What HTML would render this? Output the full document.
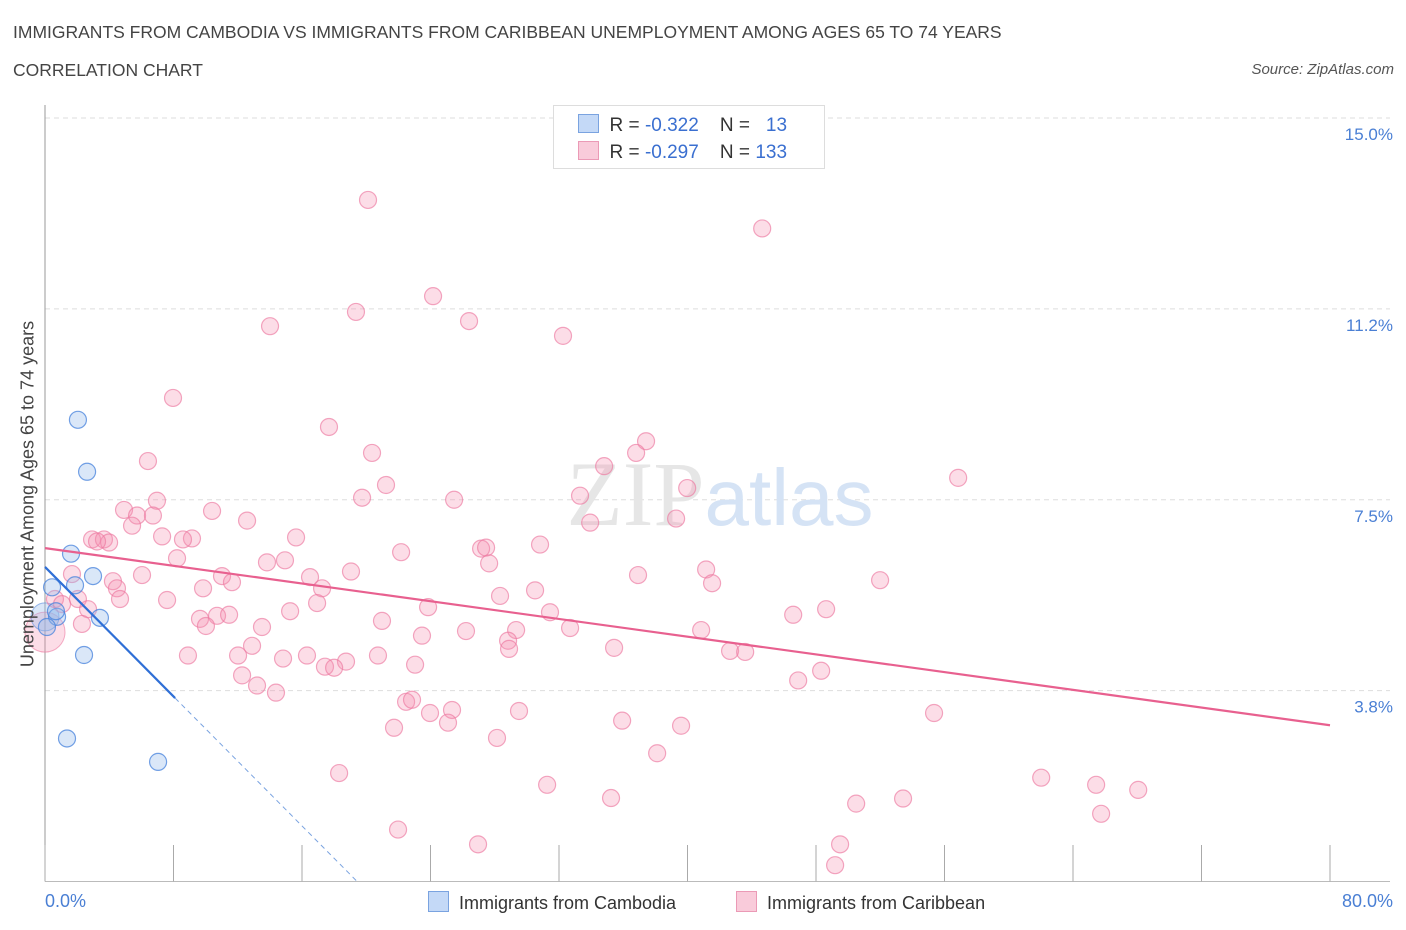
<!DOCTYPE html>
<html><head><meta charset="utf-8"><style>
body{margin:0;background:#fff;font-family:"Liberation Sans",sans-serif;}
.t{position:absolute;color:#444;}
</style></head><body>
<div style="position:relative;width:1406px;height:930px;overflow:hidden">
<div class="t" style="left:13px;top:22px;font-size:17.5px">IMMIGRANTS FROM CAMBODIA VS IMMIGRANTS FROM CARIBBEAN UNEMPLOYMENT AMONG AGES 65 TO 74 YEARS</div>
<div class="t" style="left:13px;top:60px;font-size:17.5px">CORRELATION CHART</div>
<div class="t" style="right:12px;top:61px;font-size:15px;font-style:italic;color:#555">Source: ZipAtlas.com</div>
<svg id="chart" width="1406" height="930" style="position:absolute;left:0;top:0" xmlns="http://www.w3.org/2000/svg"></svg>
</div>
<script>
const xTicks=[0,8,16,24,32,40,48,56,64,72,80];
const yTicks=[3.75,7.5,11.25,15];
const yTickLabels=["3.8%","7.5%","11.2%","15.0%"];
const cambX=[2.05,2.62,1.62,2.99,1.87,0.44,0.75,3.42,0.12,2.43,1.37,7.04,0.68];
const cambY=[9.07,8.05,6.44,6.00,5.82,5.78,5.20,5.18,5.00,4.45,2.81,2.35,5.31];
const carX=[20.11,44.65,24.16,19.36,14.01,26.40,32.25,7.97,17.68,37.42,20.36,36.80,6.41,34.81,56.85,21.23,39.98,33.31,19.74,25.47,6.97,10.40,4.92,5.73,6.72,12.58,5.42,33.94,39.29,7.29,2.93,3.67,15.63,9.15,8.59,3.99,3.24,30.82,27.15,27.46,22.17,8.22,13.82,27.65,14.94,41.16,1.68,6.04,36.92,51.99,16.50,4.23,11.02,11.64,9.84,41.53,4.48,17.25,19.05,30.51,28.33,0.62,7.60,16.94,2.05,1.06,2.68,15.26,23.85,48.63,46.58,31.44,9.65,10.71,11.46,2.30,10.02,20.98,13.51,29.33,26.21,32.69,23.47,40.85,28.83,12.89,12.02,8.90,14.82,35.43,42.65,43.59,28.89,23.04,16.31,18.74,17.43,18.00,20.73,12.27,48.32,46.89,13.20,14.38,22.48,22.85,25.34,23.97,29.51,55.35,25.09,21.73,35.93,39.60,28.14,38.11,18.31,62.02,65.44,31.26,68.06,35.24,53.42,50.50,65.75,21.98,49.50,26.96,49.19,4.67];
const carY=[13.39,12.83,11.50,11.19,10.91,11.01,10.72,9.50,8.93,8.65,8.42,8.42,8.26,8.16,7.93,7.79,7.73,7.58,7.54,7.50,7.48,7.28,7.30,7.19,7.19,7.09,6.99,7.05,7.13,6.78,6.72,6.72,6.76,6.74,6.72,6.66,6.68,6.62,6.54,6.56,6.47,6.35,6.27,6.25,6.31,6.13,6.04,6.02,6.02,5.92,5.98,5.90,6.00,5.88,5.76,5.86,5.76,5.76,6.09,5.72,5.61,5.55,5.53,5.47,5.55,5.45,5.35,5.31,5.39,5.35,5.24,5.29,5.16,5.22,5.24,5.06,5.02,5.12,5.00,4.94,4.92,4.98,4.83,4.94,4.73,4.63,4.44,4.44,4.38,4.59,4.53,4.51,4.57,4.26,4.44,4.32,4.22,4.20,4.44,4.05,4.14,3.95,3.85,3.71,3.53,3.57,3.37,3.31,3.35,3.31,3.12,3.02,3.16,3.06,2.82,2.52,2.13,2.04,1.90,1.90,1.80,1.64,1.63,1.53,1.33,1.02,0.73,0.73,0.32,5.55];
const cambTrend=[6.18,-0.318];
const carTrend=[6.55,3.07];
const X0=45,X1=1330,Y0=881.5,PXY=50.9;
function xs(v){return X0+v*(X1-X0)/80;}
function ys(v){return Y0-v*PXY;}
const svg=document.getElementById('chart');const NS='http://www.w3.org/2000/svg';
function mk(tag,attrs,parent){const e=document.createElementNS(NS,tag);for(const k in attrs)e.setAttribute(k,attrs[k]);(parent||svg).appendChild(e);return e;}
// grid
yTicks.forEach((t,i)=>{
 const l=mk('line',{x1:X0,x2:1390,y1:ys(t),y2:ys(t),stroke:'#ddd','stroke-dasharray':'5,4'});
 
 
 const tx=mk('text',{x:1393,y:ys(t)+22,'text-anchor':'end','font-size':'17',fill:'#4a7fd4','font-family':'Liberation Sans'});
 tx.textContent=yTickLabels[i];
 
 
});
mk('line',{x1:X0,x2:1390,y1:ys(15)-0,y2:ys(15),stroke:'#ddd','stroke-dasharray':'5,4'});
const ax=mk('line',{x1:X0,x2:X0,y1:105,y2:Y0,stroke:'#999'});


const bx=mk('line',{x1:X0,x2:X1+60,y1:Y0,y2:Y0,stroke:'#bbb'});


xTicks.forEach(t=>{const l=mk('line',{x1:xs(t),x2:xs(t),y1:845,y2:Y0,stroke:'#aaa'});
 
 });
// watermark
const wm=mk('text',{x:720,y:525,'text-anchor':'middle','font-size':'92',fill:'#e6e6e6','font-family':'Liberation Serif'});
wm.innerHTML='ZIP<tspan fill="#d5e3f5" font-family="Liberation Sans" font-size="80">atlas</tspan>';


// big overlap circles
const bg1=mk('circle',{cx:xs(0),cy:ys(4.9),r:20,fill:'rgba(244,143,177,0.3)',stroke:'rgba(236,120,160,0.6)'});


const bg2=mk('circle',{cx:xs(0),cy:ys(5.2),r:14,fill:'rgba(150,185,235,0.35)',stroke:'rgba(90,140,220,0.6)'});


carX.forEach((x,i)=>{const c=mk('circle',{cx:xs(x),cy:ys(carY[i]),r:8.5,fill:'rgba(244,143,177,0.3)',stroke:'rgba(236,120,160,0.65)','stroke-width':1.2});
 
 });
cambX.forEach((x,i)=>{const c=mk('circle',{cx:xs(x),cy:ys(cambY[i]),r:8.5,fill:'rgba(150,185,235,0.35)',stroke:'rgba(70,130,220,0.75)','stroke-width':1.2});
 
 });
// trends
const ct=mk('line',{x1:xs(0),y1:ys(carTrend[0]),x2:xs(80),y2:ys(carTrend[1]),stroke:'#e8608f','stroke-width':2.2});


const xe=8.1,xz=-cambTrend[0]/cambTrend[1];
const cs=mk('line',{x1:xs(0),y1:ys(cambTrend[0]),x2:xs(xe),y2:ys(cambTrend[0]+cambTrend[1]*xe),stroke:'#2f6fd6','stroke-width':2.2});


const cd=mk('line',{x1:xs(xe),y1:ys(cambTrend[0]+cambTrend[1]*xe),x2:xs(xz),y2:ys(0),stroke:'#7aa3e0','stroke-width':1,'stroke-dasharray':'5,4'});


</script>
<div style="position:absolute;left:553px;top:105px;width:270px;height:62px;border:1px solid #ddd;background:#fff;font-size:19px;color:#333">
 <div style="position:absolute;left:24px;top:8px;white-space:nowrap"><span style="display:inline-block;width:19px;height:17px;background:#c4d9f7;border:1px solid #7aa3e0;vertical-align:-2px"></span>&nbsp; R = <span style="color:#3a6fd0">-0.322</span>&nbsp;&nbsp;&nbsp; N = &nbsp;&nbsp;<span style="color:#3a6fd0">13</span></div>
 <div style="position:absolute;left:24px;top:35px;white-space:nowrap"><span style="display:inline-block;width:19px;height:17px;background:#f9cbda;border:1px solid #eb9ab6;vertical-align:-2px"></span>&nbsp; R = <span style="color:#3a6fd0">-0.297</span>&nbsp;&nbsp;&nbsp; N = <span style="color:#3a6fd0">133</span></div>
</div>
<div style="position:absolute;left:28px;top:494px;transform:translate(-50%,-50%) rotate(-90deg);font-size:18px;color:#444;white-space:nowrap">Unemployment Among Ages 65 to 74 years</div>
<div style="position:absolute;left:45px;top:891px;font-size:18px;color:#4a7fd4">0.0%</div>
<div style="position:absolute;right:13px;top:891px;font-size:18px;color:#4a7fd4">80.0%</div>
<div style="position:absolute;left:428px;top:891px;font-size:18px;color:#333;white-space:nowrap"><span style="display:inline-block;width:19px;height:19px;background:#c4d9f7;border:1px solid #7aa3e0;vertical-align:-3px"></span>&nbsp; Immigrants from Cambodia</div>
<div style="position:absolute;left:736px;top:891px;font-size:18px;color:#333;white-space:nowrap"><span style="display:inline-block;width:19px;height:19px;background:#f9cbda;border:1px solid #eb9ab6;vertical-align:-3px"></span>&nbsp; Immigrants from Caribbean</div>
</body></html>
